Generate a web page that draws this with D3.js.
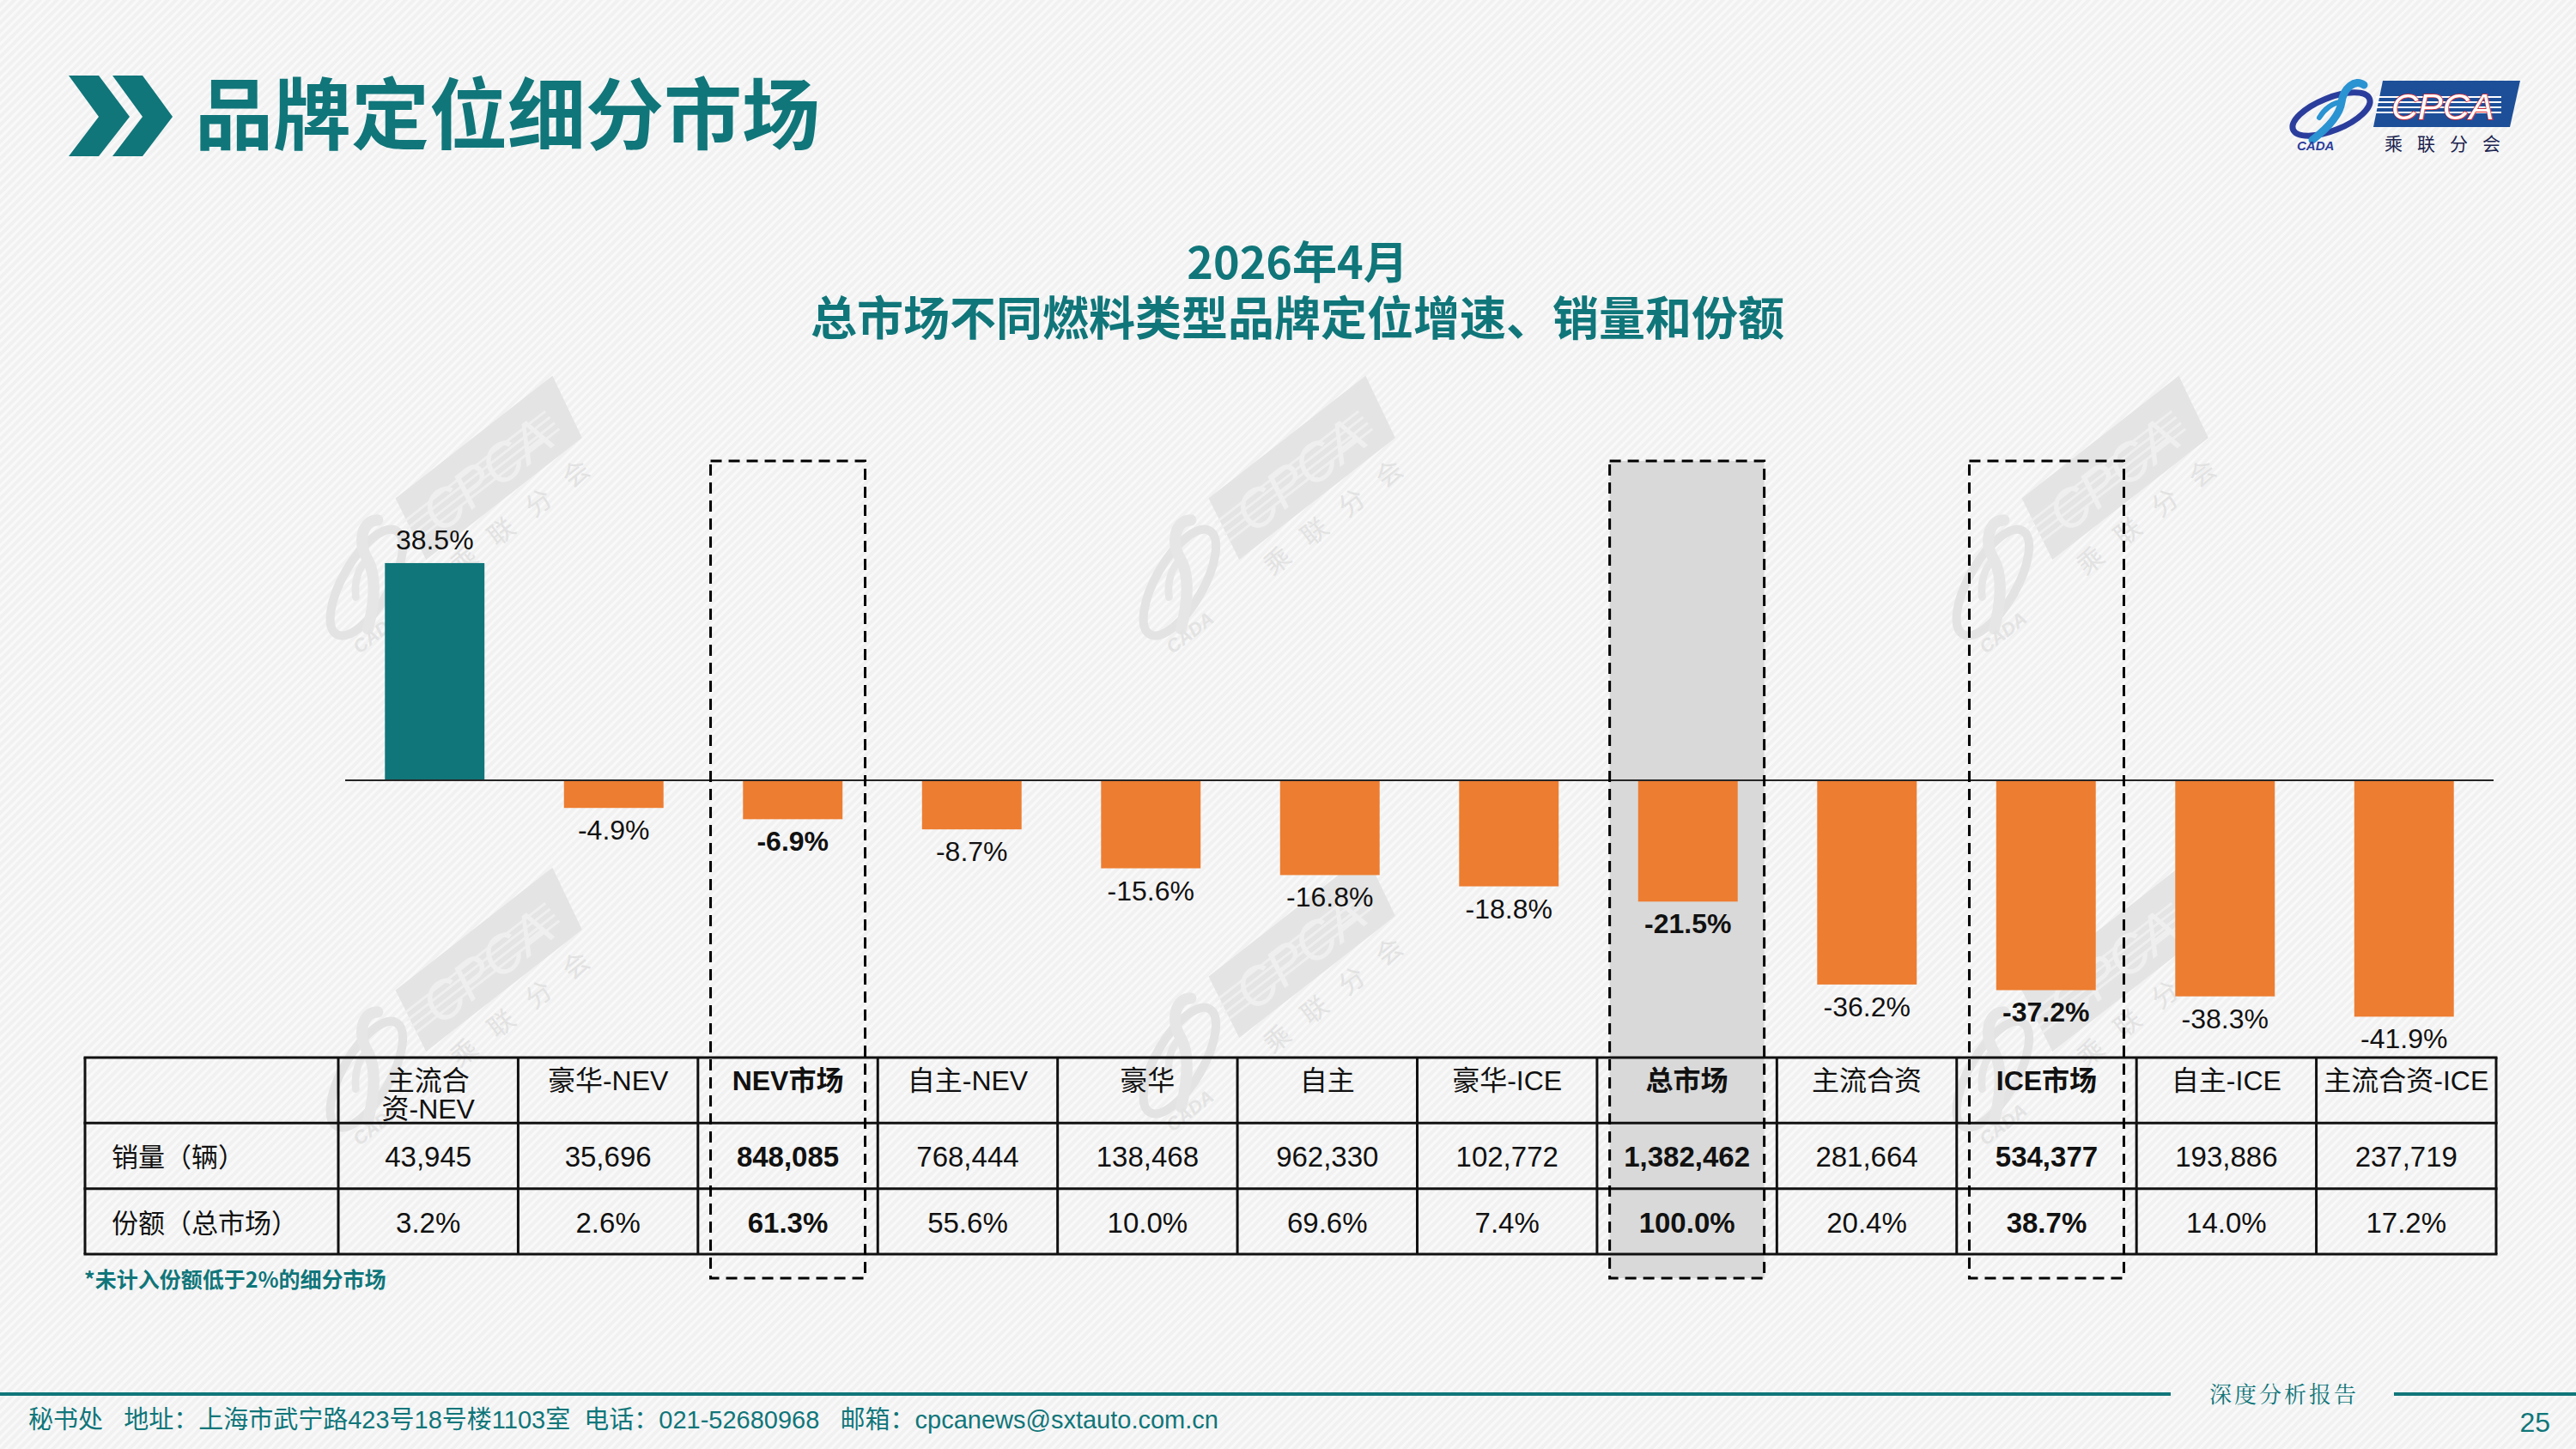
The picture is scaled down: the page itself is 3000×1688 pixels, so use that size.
<!DOCTYPE html>
<html>
<head>
<meta charset="utf-8">
<script src="https://cdn.jsdelivr.net/npm/d3@7"></script>
<style>
  html, body { margin: 0; padding: 0; background: #f3f3f3; }
  svg { display: block; }
</style>
</head>
<body>
<div id="chart"></div>
<script>
// ── Data ───────────────────────────────────────────────
const categories = ["主流合资-NEV", "豪华-NEV", "NEV市场", "自主-NEV", "豪华", "自主",
                    "豪华-ICE", "总市场", "主流合资", "ICE市场", "自主-ICE", "主流合资-ICE"];
const growth = [38.5, -4.9, -6.9, -8.7, -15.6, -16.8, -18.8, -21.5, -36.2, -37.2, -38.3, -41.9];
const sales  = [43945, 35696, 848085, 768444, 138468, 962330, 102772, 1382462, 281664, 534377, 193886, 237719];
const share  = [3.2, 2.6, 61.3, 55.6, 10.0, 69.6, 7.4, 100.0, 20.4, 38.7, 14.0, 17.2];
const keyMarkets  = ["NEV市场", "总市场", "ICE市场"];   // bold + dashed frame
const totalMarket = "总市场";                           // grey shading
const rowLabels   = ["销量（辆）", "份额（总市场）"];
const wrapped     = { "主流合资-NEV": ["主流合", "资-NEV"] };

const pageTitle  = "品牌定位细分市场";
const chartTitle = ["2026年4月", "总市场不同燃料类型品牌定位增速、销量和份额"];
const footnote   = "*未计入份额低于2%的细分市场";
const footerText = "秘书处   地址：上海市武宁路423号18号楼1103室  电话：021-52680968   邮箱：cpcanews@sxtauto.com.cn";

// ── Look ───────────────────────────────────────────────
const TEAL = "#10767a", ORANGE = "#ed7d31";
const LATIN = "'Liberation Sans', Arial, 'Noto Sans CJK SC', sans-serif";
const CJK = "'Noto Sans CJK SC', 'Liberation Sans', sans-serif";
const W = 3000, H = 1688;
const pct = v => v.toFixed(1) + "%";   // keeps a plain hyphen for negatives

const svg = d3.select("#chart").append("svg")
  .attr("width", W).attr("height", H);

// striped background
const defs = svg.append("defs");
const pat = defs.append("pattern")
  .attr("id", "stripes").attr("width", 7).attr("height", 7)
  .attr("patternUnits", "userSpaceOnUse")
  .attr("patternTransform", "rotate(45)");
pat.append("rect").attr("width", 7).attr("height", 7).attr("fill", "#f1f1f1");
pat.append("rect").attr("width", 3).attr("height", 7).attr("fill", "#f9f9f9");
svg.append("rect").attr("width", W).attr("height", H).attr("fill", "url(#stripes)");

// ── Logo (used for corner logo and faint watermarks) ───
function drawLogo(g, c) {
  g.append("path")
    .attr("d", "M108,1 L268,1 L256,55 L97,55 Z")
    .attr("fill", c.band);
  [20, 26, 32, 38].forEach(y => {
    g.append("line").attr("x1", 100).attr("x2", 246).attr("y1", y).attr("y2", y)
      .attr("stroke", c.stripe).attr("stroke-width", 2);
  });
  g.append("text")
    .attr("x", 118).attr("y", 46)
    .attr("font-family", LATIN).attr("font-style", "italic")
    .attr("font-size", 43)
    .attr("fill", c.letters).attr("stroke", c.outline).attr("stroke-width", c.outline === "none" ? 0 : 1.6)
    .attr("paint-order", "stroke")
    .text("CPCA");
  g.append("text")
    .attr("x", 110).attr("y", 82)
    .attr("font-family", CJK).attr("font-size", 21)
    .attr("letter-spacing", 17)
    .attr("fill", c.dark)
    .text("乘联分会");
  g.append("ellipse")
    .attr("cx", 48).attr("cy", 40).attr("rx", 48).attr("ry", 19)
    .attr("transform", "rotate(-22,48,40)")
    .attr("fill", "none").attr("stroke", c.ring).attr("stroke-width", 7);
  g.append("path")
    .attr("d", "M86,6 C76,-2 62,10 60,26 C58,40 44,56 26,70")
    .attr("fill", "none").attr("stroke", c.swoosh).attr("stroke-width", 9)
    .attr("stroke-linecap", "round");
  g.append("path")
    .attr("d", "M60,26 C50,26 40,34 34,44")
    .attr("fill", "none").attr("stroke", c.swoosh).attr("stroke-width", 6)
    .attr("stroke-linecap", "round");
  g.append("text")
    .attr("x", 8).attr("y", 82)
    .attr("font-family", LATIN).attr("font-style", "italic").attr("font-weight", "bold")
    .attr("font-size", 15).attr("fill", c.ring)
    .text("CADA");
}

// watermarks
const wmColors = { band: "#e4e4e4", stripe: "#efefef", letters: "#efefef", outline: "none",
                   dark: "#e2e2e2", ring: "#e3e3e3", swoosh: "#e6e6e6" };
[[526, 603], [1473, 603], [2420, 603], [526, 1176], [1473, 1160], [2420, 1176]].forEach(([cx, cy]) => {
  const g = svg.append("g")
    .attr("transform", `translate(${cx},${cy}) rotate(-38) scale(1.45) translate(-134,-41)`);
  drawLogo(g, wmColors);
});

// ── Page header ───────────────────────────────────────
svg.append("path")
  .attr("d", "M80,88 L115,88 L151,136 L115,182 L80,182 L115,136 Z M131,88 L166,88 L201,136 L166,182 L131,182 L166,136 Z")
  .attr("fill", TEAL);
svg.append("text")
  .attr("x", 227).attr("y", 167)
  .attr("font-family", CJK).attr("font-weight", 700).attr("font-size", 91)
  .attr("fill", TEAL)
  .text(pageTitle);

const logo = svg.append("g").attr("transform", "translate(2667,93)");
drawLogo(logo, { band: "#1d4f99", stripe: "#ffffff", letters: "#ffffff", outline: "#e0262a",
                 dark: "#1b2350", ring: "#2b3d9c", swoosh: "#2a93d2" });

// chart title (two lines in one text block)
const ttl = svg.append("text")
  .attr("text-anchor", "middle")
  .attr("font-family", CJK).attr("font-weight", 700)
  .attr("fill", TEAL);
ttl.append("tspan").attr("x", 1511).attr("y", 325).attr("font-size", 52).text(chartTitle[0]);
ttl.append("tspan").attr("x", 1511).attr("y", 391).attr("font-size", 54).text(chartTitle[1]);

// ── Scales ─────────────────────────────────────────────
const x = d3.scaleBand()
  .domain(categories)
  .range([402, 2904])
  .paddingInner(0.444)
  .paddingOuter(0.222);

const y = d3.scaleLinear()
  .domain([-50, 40])
  .range([1237.6, 646.1]);

const col = d3.scaleBand()
  .domain(categories)
  .range([394, 2907]);

const rows = d3.scaleBand()
  .domain(["header", "sales", "share"])
  .range([1232, 1461]);

const frameTop = 537, frameBottom = 1489, frameW = 180;

// grey shading behind the total market
svg.append("rect")
  .attr("x", col(totalMarket) + col.bandwidth() / 2 - frameW / 2)
  .attr("y", frameTop)
  .attr("width", frameW)
  .attr("height", frameBottom - frameTop)
  .attr("fill", "#d9d9d9");

// ── Bars ──────────────────────────────────────────────
const data = categories.map((c, i) => ({ cat: c, g: growth[i], sales: sales[i], share: share[i] }));

svg.selectAll(".bar")
  .data(data)
  .join("rect")
    .attr("class", "bar")
    .attr("x", d => x(d.cat))
    .attr("width", x.bandwidth())
    .attr("y", d => y(Math.max(0, d.g)))
    .attr("height", d => Math.abs(y(d.g) - y(0)))
    .attr("fill", d => d.g >= 0 ? TEAL : ORANGE);

// zero line
svg.append("line")
  .attr("x1", x.range()[0]).attr("x2", x.range()[1])
  .attr("y1", y(0)).attr("y2", y(0))
  .attr("stroke", "#262626").attr("stroke-width", 2);

// value labels
svg.selectAll(".val")
  .data(data)
  .join("text")
    .attr("class", "val")
    .attr("x", d => x(d.cat) + x.bandwidth() / 2)
    .attr("y", d => d.g >= 0 ? y(d.g) - 16 : y(d.g) + 37)
    .attr("text-anchor", "middle")
    .attr("font-family", LATIN).attr("font-size", 32)
    .attr("font-weight", d => keyMarkets.includes(d.cat) ? "bold" : "normal")
    .attr("fill", "#111")
    .text(d => pct(d.g));

// ── Table ─────────────────────────────────────────────
const tbl = svg.append("g");
const tLeft = 99, tRight = col.range()[1];
[...rows.domain().map(r => rows(r)), rows.range()[1]].forEach(ty => {
  tbl.append("line")
    .attr("x1", tLeft - 1.5).attr("x2", tRight + 1.5)
    .attr("y1", ty).attr("y2", ty)
    .attr("stroke", "#111").attr("stroke-width", 3);
});
[tLeft, ...categories.map(c => col(c)), tRight].forEach(tx => {
  tbl.append("line")
    .attr("x1", tx).attr("x2", tx)
    .attr("y1", rows.range()[0]).attr("y2", rows.range()[1])
    .attr("stroke", "#111").attr("stroke-width", 3);
});

// header cells
data.forEach(d => {
  const lines = wrapped[d.cat] || [d.cat];
  const t = tbl.append("text")
    .attr("x", col(d.cat) + col.bandwidth() / 2)
    .attr("y", rows("header") + 38)
    .attr("text-anchor", "middle")
    .attr("font-family", LATIN).attr("font-size", 32)
    .attr("font-weight", keyMarkets.includes(d.cat) ? "bold" : "normal")
    .attr("fill", "#111");
  lines.forEach((ln, i) => {
    t.append("tspan")
      .attr("x", col(d.cat) + col.bandwidth() / 2)
      .attr("dy", i === 0 ? 0 : 33)
      .text(ln);
  });
});

// row labels
rowLabels.forEach((lab, i) => {
  tbl.append("text")
    .attr("x", 130)
    .attr("y", rows(["sales", "share"][i]) + 51)
    .attr("font-family", CJK).attr("font-size", 31)
    .attr("fill", "#111")
    .text(lab);
});

// values
[["sales", d => d3.format(",")(d.sales)], ["share", d => pct(d.share)]].forEach(([r, fmt]) => {
  tbl.selectAll(".cell-" + r)
    .data(data)
    .join("text")
      .attr("class", "cell-" + r)
      .attr("x", d => col(d.cat) + col.bandwidth() / 2)
      .attr("y", rows(r) + 51)
      .attr("text-anchor", "middle")
      .attr("font-family", LATIN).attr("font-size", 33)
      .attr("font-weight", d => keyMarkets.includes(d.cat) ? "bold" : "normal")
      .attr("fill", "#111")
      .text(fmt);
});

// dashed frames around the three market totals
svg.selectAll(".frame")
  .data(keyMarkets)
  .join("rect")
    .attr("class", "frame")
    .attr("x", c => col(c) + col.bandwidth() / 2 - frameW / 2)
    .attr("y", frameTop)
    .attr("width", frameW)
    .attr("height", frameBottom - frameTop)
    .attr("fill", "none")
    .attr("stroke", "#000").attr("stroke-width", 3)
    .attr("stroke-dasharray", "13,8");

// footnote
svg.append("text")
  .attr("x", 98).attr("y", 1500)
  .attr("font-family", CJK).attr("font-weight", 700).attr("font-size", 25)
  .attr("fill", TEAL)
  .text(footnote);

// ── Footer ────────────────────────────────────────────
svg.append("line")
  .attr("x1", 0).attr("x2", 2528).attr("y1", 1624).attr("y2", 1624)
  .attr("stroke", TEAL).attr("stroke-width", 4);
svg.append("line")
  .attr("x1", 2788).attr("x2", W).attr("y1", 1624).attr("y2", 1624)
  .attr("stroke", TEAL).attr("stroke-width", 4);
svg.append("text")
  .attr("x", 2573).attr("y", 1634)
  .attr("font-family", "'Noto Serif CJK SC', 'Noto Sans CJK SC', serif")
  .attr("font-size", 26).attr("letter-spacing", 3)
  .attr("fill", TEAL)
  .text("深度分析报告");
svg.append("text")
  .attr("x", 2970).attr("y", 1668)
  .attr("text-anchor", "end")
  .attr("font-family", LATIN).attr("font-size", 32)
  .attr("fill", TEAL)
  .text("25");
svg.append("text")
  .attr("x", 33).attr("y", 1664)
  .attr("font-family", LATIN).attr("font-size", 29)
  .attr("fill", TEAL)
  .attr("xml:space", "preserve")
  .style("white-space", "pre")
  .text(footerText);
</script>
</body>
</html>
